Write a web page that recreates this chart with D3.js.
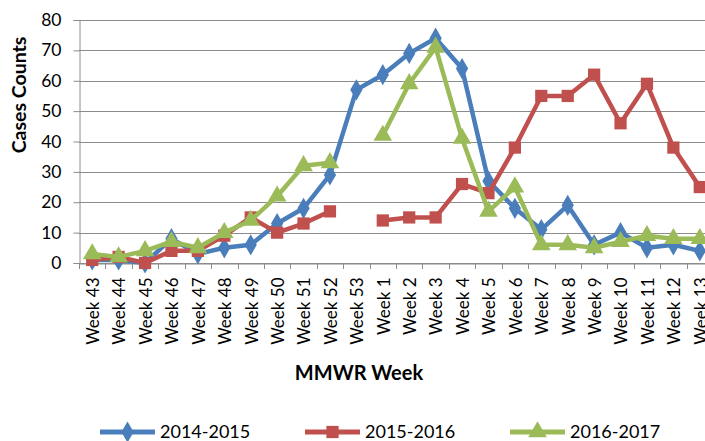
<!DOCTYPE html>
<html>
<head>
<meta charset="utf-8">
<script src="https://cdn.jsdelivr.net/npm/d3@7"></script>
<style>
  html, body { margin: 0; padding: 0; background: #fff; overflow: hidden; }
  svg { display: block; font-family: Lato, "Open Sans", sans-serif; }
</style>
</head>
<body>
<svg id="chart" width="705" height="441"></svg>
<script>
// categories
const weeks = ['Week 43', 'Week 44', 'Week 45', 'Week 46', 'Week 47', 'Week 48', 'Week 49',
  'Week 50', 'Week 51', 'Week 52', 'Week 53', 'Week 1', 'Week 2', 'Week 3', 'Week 4',
  'Week 5', 'Week 6', 'Week 7', 'Week 8', 'Week 9', 'Week 10', 'Week 11', 'Week 12', 'Week 13'];

// series values (null = no report that week)
const season1415 = [1, 1, 0, 8, 3, 5, 6, 13, 18, 29, 57, 62, 69, 74, 64, 27, 18, 11, 19, 6, 10, 5, 6, 4];
const season1516 = [1, 2, 0, 4, 4, 9, 15, 10, 13, 17, null, 14, 15, 15, 26, 23, 38, 55, 55, 62, 46, 59, 38, 25];
const season1617 = [3, 2, 4, 7, 5, 10, 14, 22, 32, 33, null, 42, 59, 71, 41, 17, 25, 6, 6, 5, 7, 9, 8, 8];

const yTicks = [0, 10, 20, 30, 40, 50, 60, 70, 80];

const series = [
  { name: '2014-2015', values: season1415, color: '#4a7ebb', symbol: d3.symbolDiamond, size: 130 },
  { name: '2015-2016', values: season1516, color: '#c0504d', symbol: d3.symbolSquare, size: 150 },
  { name: '2016-2017', values: season1617, color: '#9bbb59', symbol: d3.symbolTriangle, size: 150 }
];

const svg = d3.select('#chart');
const margin = { left: 79, top: 20, right: 713, bottom: 263 };

const x = d3.scaleBand()
  .domain(weeks)
  .range([margin.left, margin.right]);

const y = d3.scaleLinear()
  .domain([0, 80])
  .range([margin.bottom, margin.top]);

// horizontal gridlines
svg.append('g')
  .selectAll('line')
  .data(yTicks)
  .join('line')
  .attr('x1', margin.left)
  .attr('x2', margin.right)
  .attr('y1', d => Math.round(y(d)) + 0.5)
  .attr('y2', d => Math.round(y(d)) + 0.5)
  .attr('stroke', '#8c8c8c')
  .attr('stroke-width', 1);

// y axis
const yAxis = svg.append('g')
  .attr('transform', `translate(${margin.left + 0.5},0)`)
  .call(d3.axisLeft(y).tickValues(yTicks).tickSize(6).tickPadding(12));
yAxis.select('.domain').attr('stroke', '#8c8c8c');
yAxis.selectAll('.tick line').attr('stroke', '#8c8c8c');
yAxis.selectAll('.tick text').attr('font-size', 17.5).attr('fill', '#000')
  .attr('font-family', 'Lato, sans-serif');

// x axis
const xAxis = svg.append('g')
  .attr('transform', `translate(0,${Math.round(y(0)) + 0.5})`)
  .call(d3.axisBottom(x).tickSize(0).tickPadding(0));
xAxis.select('.domain').attr('stroke', '#8c8c8c');
xAxis.selectAll('.tick text')
  .attr('font-size', 17)
  .attr('fill', '#000')
  .attr('font-family', 'Lato, sans-serif')
  .attr('transform', 'rotate(-90)')
  .attr('text-anchor', 'end')
  .attr('dy', '0.4em')
  .attr('x', -14)
  .attr('y', 0);

// category boundary ticks
svg.append('g')
  .selectAll('line')
  .data(weeks)
  .join('line')
  .attr('x1', d => Math.round(x(d)) + 0.5)
  .attr('x2', d => Math.round(x(d)) + 0.5)
  .attr('y1', Math.round(y(0)))
  .attr('y2', Math.round(y(0)) + 6)
  .attr('stroke', '#8c8c8c');

// lines
const line = d3.line()
  .defined(d => d != null)
  .x((d, i) => x(weeks[i]) + x.bandwidth() / 2)
  .y(d => y(d));

series.forEach(s => {
  svg.append('path')
    .datum(s.values)
    .attr('fill', 'none')
    .attr('stroke', s.color)
    .attr('stroke-width', 4.5)
    .attr('stroke-linejoin', 'round')
    .attr('d', line);

  svg.append('g')
    .selectAll('path')
    .data(s.values.map((v, i) => ({ v, i })).filter(d => d.v != null))
    .join('path')
    .attr('transform', d => `translate(${x(weeks[d.i]) + x.bandwidth() / 2},${y(d.v)})`)
    .attr('d', d3.symbol().type(s.symbol).size(s.size))
    .attr('fill', s.color);
});

// axis titles
svg.append('text')
  .attr('transform', 'translate(26,95) rotate(-90)')
  .attr('text-anchor', 'middle')
  .attr('font-size', 19.5)
  .attr('font-weight', 'bold')
  .text('Cases Counts');

svg.append('text')
  .attr('x', 359)
  .attr('y', 380)
  .attr('text-anchor', 'middle')
  .attr('font-size', 20)
  .attr('font-weight', 'bold')
  .text('MMWR Week');

// legend
const legendX = [100, 305, 510];
const legend = svg.append('g')
  .selectAll('g')
  .data(series)
  .join('g')
  .attr('transform', (d, i) => `translate(${legendX[i]},432)`);

legend.append('line')
  .attr('x1', 0).attr('x2', 55)
  .attr('stroke', d => d.color)
  .attr('stroke-width', 5);

legend.append('path')
  .attr('transform', 'translate(27.5,0)')
  .attr('d', d => d3.symbol().type(d.symbol).size(d.size)())
  .attr('fill', d => d.color);

legend.append('text')
  .attr('x', 60)
  .attr('dy', '0.36em')
  .attr('font-size', 18)
  .attr('fill', '#000')
  .text(d => d.name);
</script>
</body>
</html>
